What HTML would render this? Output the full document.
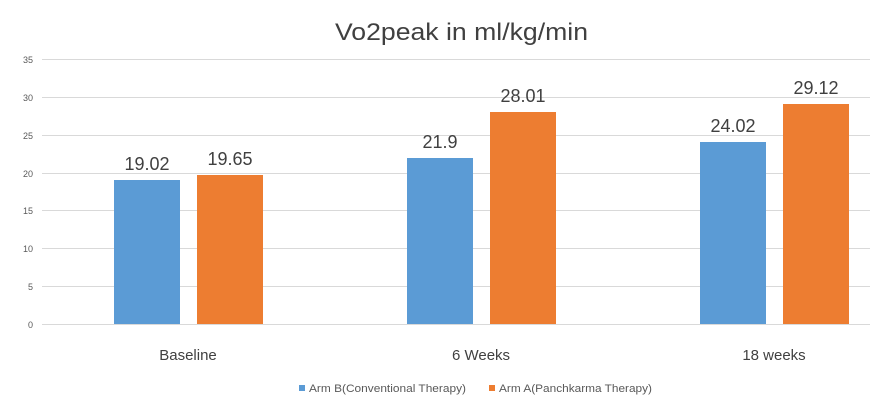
<html><body style="margin:0;background:#fff">
<svg width="876" height="409" xmlns="http://www.w3.org/2000/svg" font-family="Liberation Sans, sans-serif">
<rect width="876" height="409" fill="#fff"/>
<text x="335" y="40" font-size="24" fill="#404040" textLength="253" lengthAdjust="spacingAndGlyphs">Vo2peak in ml/kg/min</text>
<g stroke="#d9d9d9" stroke-width="1">
<line x1="42" x2="870" y1="59.5" y2="59.5"/><line x1="42" x2="870" y1="97.5" y2="97.5"/>
<line x1="42" x2="870" y1="135.5" y2="135.5"/><line x1="42" x2="870" y1="173.5" y2="173.5"/>
<line x1="42" x2="870" y1="210.5" y2="210.5"/><line x1="42" x2="870" y1="248.5" y2="248.5"/>
<line x1="42" x2="870" y1="286.5" y2="286.5"/><line x1="42" x2="870" y1="324.5" y2="324.5"/>
</g>
<g font-size="9" fill="#595959" text-anchor="end">
<text x="33" y="63">35</text><text x="33" y="101">30</text><text x="33" y="139">25</text><text x="33" y="177">20</text>
<text x="33" y="214">15</text><text x="33" y="252">10</text><text x="33" y="290">5</text><text x="33" y="328">0</text>
</g>
<g fill="#5b9bd5"><rect x="114" y="180" width="66" height="144"/><rect x="407" y="158" width="66" height="166"/><rect x="700" y="142" width="66" height="182"/></g>
<g fill="#ed7d31"><rect x="197" y="175" width="66" height="149"/><rect x="490" y="112" width="66" height="212"/><rect x="783" y="104" width="66" height="220"/></g>
<g font-size="18" fill="#404040" text-anchor="middle">
<text x="147" y="170">19.02</text><text x="230" y="165">19.65</text>
<text x="440" y="148">21.9</text><text x="523" y="102">28.01</text>
<text x="733" y="132">24.02</text><text x="816" y="94">29.12</text>
</g>
<g font-size="15" fill="#404040" text-anchor="middle">
<text x="188" y="360">Baseline</text><text x="481" y="360">6 Weeks</text><text x="774" y="360">18 weeks</text>
</g>
<rect x="299" y="385" width="6" height="6" fill="#5b9bd5"/>
<text x="309" y="392" font-size="11" fill="#595959" textLength="157" lengthAdjust="spacingAndGlyphs">Arm B(Conventional Therapy)</text>
<rect x="489" y="385" width="6" height="6" fill="#ed7d31"/>
<text x="499" y="392" font-size="11" fill="#595959" textLength="153" lengthAdjust="spacingAndGlyphs">Arm A(Panchkarma Therapy)</text>
</svg>
</body></html>
